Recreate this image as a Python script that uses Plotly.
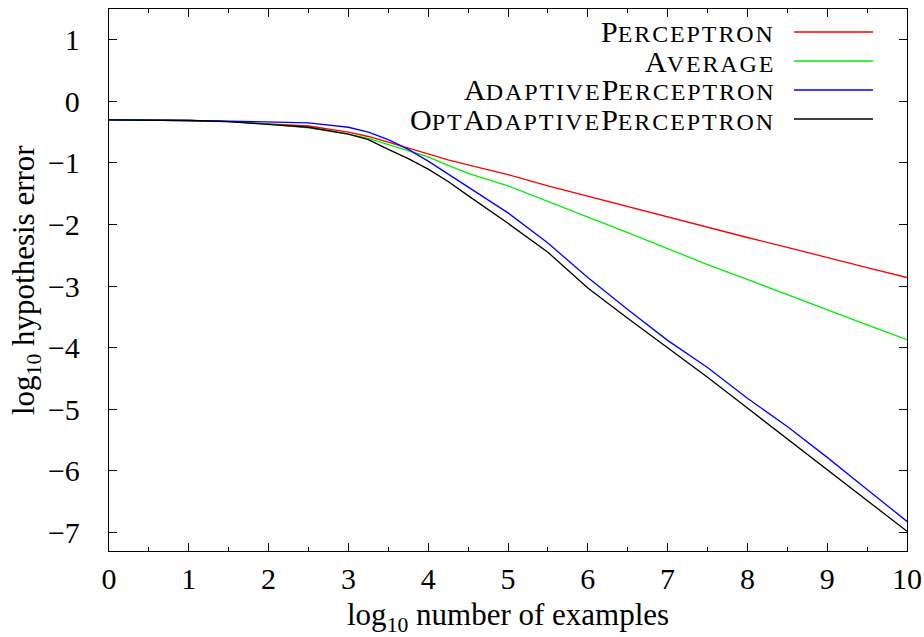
import plotly.graph_objects as go

x_log_examples = [0, 0.5, 1, 1.5, 2, 2.5, 3, 3.25, 3.5, 3.75, 4, 4.25, 4.5, 5, 5.5, 6, 6.5, 7, 7.5, 8, 8.5, 9, 9.5, 10]

perceptron = [-0.30, -0.30, -0.31, -0.33, -0.37, -0.40, -0.50, -0.57, -0.66, -0.76, -0.85, -0.95, -1.03, -1.19,
              -1.37, -1.54, -1.71, -1.88, -2.05, -2.21, -2.37, -2.54, -2.70, -2.86]
average = [-0.30, -0.30, -0.31, -0.33, -0.37, -0.43, -0.53, -0.60, -0.70, -0.79, -0.90, -1.04, -1.17, -1.37,
           -1.62, -1.88, -2.13, -2.39, -2.65, -2.89, -3.14, -3.39, -3.63, -3.87]
adaptive = [-0.30, -0.30, -0.31, -0.32, -0.33, -0.35, -0.42, -0.50, -0.62, -0.78, -0.97, -1.18, -1.40, -1.81,
            -2.30, -2.86, -3.38, -3.88, -4.32, -4.82, -5.28, -5.78, -6.30, -6.82]
opt_adaptive = [-0.30, -0.30, -0.31, -0.33, -0.37, -0.42, -0.53, -0.62, -0.78, -0.93, -1.10, -1.30, -1.53, -1.98,
                -2.45, -3.03, -3.52, -4.00, -4.48, -4.98, -5.48, -5.98, -6.47, -6.98]

series_names = ["Perceptron", "Average", "AdaptivePerceptron", "OptAdaptivePerceptron"]
SC = "<span style='font-size:24px;letter-spacing:1.9px'>"
series_labels = [
    "P" + SC + "ERCEPTRON</span>",
    "A" + SC + "VERAGE</span>",
    "A" + SC + "DAPTIVE</span>P" + SC + "ERCEPTRON</span>",
    "O" + SC + "PT</span>A" + SC + "DAPTIVE</span>P" + SC + "ERCEPTRON</span>",
]
series_colors = ["#ff0000", "#00ee00", "#0000ff", "#000000"]
series_values = [perceptron, average, adaptive, opt_adaptive]

x_tick_vals = list(range(0, 11))
y_tick_vals = list(range(-7, 2))

FONT = "Liberation Serif"
FS = 30
W, H = 924, 637
L, R, T, B = 109, 17, 9, 86
pw, ph = W - L - R, H - T - B

fig = go.Figure()
for name, vals, col in zip(series_names, series_values, series_colors):
    fig.add_trace(go.Scatter(x=x_log_examples, y=vals, mode="lines", name=name,
                             line=dict(color=col, width=1.3), showlegend=False))

def px2paper_x(px):
    return (px - L) / pw

def py2paper_y(py):
    return (H - B - py) / ph

annotations = []
shapes = []
legend_rows_py = [32, 61, 90, 119]
for lab, col, py in zip(series_labels, series_colors, legend_rows_py):
    annotations.append(dict(x=px2paper_x(777), y=py2paper_y(py), xref="paper", yref="paper",
                            text=lab, showarrow=False, xanchor="right", yanchor="middle",
                            font=dict(family=FONT, size=FS, color="black")))
    shapes.append(dict(type="line", xref="paper", yref="paper",
                       x0=px2paper_x(794), x1=px2paper_x(873), y0=py2paper_y(py), y1=py2paper_y(py),
                       line=dict(color=col, width=1.3)))

annotations.append(dict(x=0.5, y=py2paper_y(617), xref="paper", yref="paper",
                        text="log<sub>10</sub> number of examples", showarrow=False,
                        xanchor="center", yanchor="middle", font=dict(family=FONT, size=31, color="black")))
annotations.append(dict(x=px2paper_x(26), y=0.5, xref="paper", yref="paper", textangle=-90,
                        text="log<sub>10</sub> hypothesis error", showarrow=False,
                        xanchor="center", yanchor="middle", font=dict(family=FONT, size=31, color="black")))

fig.update_layout(
    width=W, height=H,
    margin=dict(l=L, r=R, t=T, b=B, autoexpand=False),
    paper_bgcolor="white", plot_bgcolor="white",
    font=dict(family=FONT, size=FS, color="black"),
    annotations=annotations, shapes=shapes,
)
fig.update_xaxes(range=[0, 10], tickvals=x_tick_vals, ticks="inside", ticklen=8, tickwidth=1,
                 tickcolor="black", showline=True, linecolor="black", linewidth=1.3, mirror="allticks",
                 showgrid=False, zeroline=False, ticklabelstandoff=1,
                 minor=dict(dtick=0.5, ticks="inside", ticklen=4, tickcolor="black", showgrid=False))
fig.update_yaxes(range=[-7.3, 1.5], tickvals=y_tick_vals, ticks="inside", ticklen=8, tickwidth=1,
                 tickcolor="black", showline=True, linecolor="black", linewidth=1.3, mirror="allticks",
                 showgrid=False, zeroline=False, ticklabelstandoff=22)

fig.write_html("out.html", config={"displayModeBar": False},
               post_script="document.body.style.margin='0';document.body.style.overflow='hidden';")
